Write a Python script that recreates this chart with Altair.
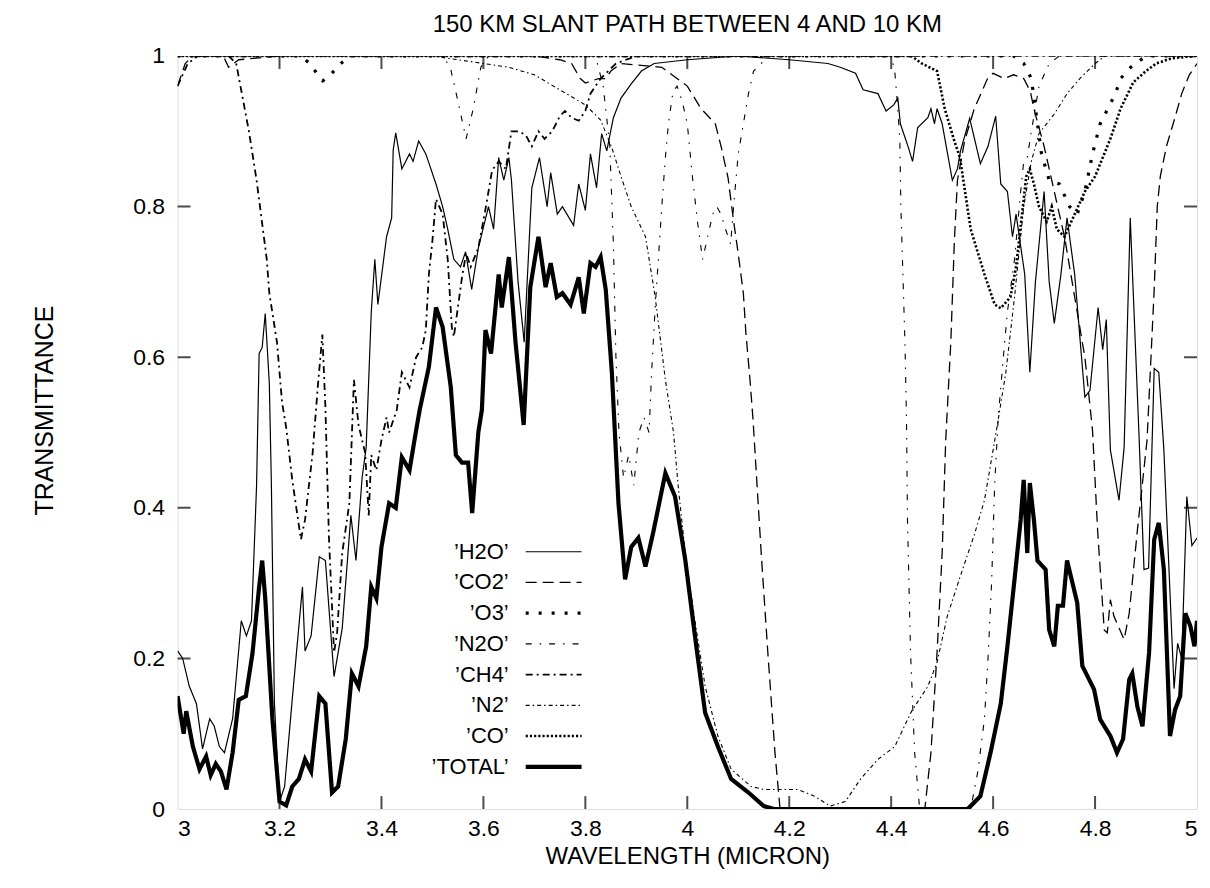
import altair as alt
import pandas as pd

TITLE = "150 KM SLANT PATH BETWEEN 4 AND 10 KM"
X_TITLE = "WAVELENGTH (MICRON)"
Y_TITLE = "TRANSMITTANCE"
X_TICKS = [3.0, 3.2, 3.4, 3.6, 3.8, 4.0, 4.2, 4.4, 4.6, 4.8, 5.0]
Y_TICKS = [0.0, 0.2, 0.4, 0.6, 0.8, 1.0]

# (wavelength, transmittance) pairs
H2O = [(3.0, 0.21), (3.01, 0.20), (3.023, 0.163), (3.037, 0.14), (3.049, 0.08), (3.063, 0.12),
       (3.072, 0.11), (3.082, 0.083), (3.092, 0.075), (3.108, 0.12), (3.125, 0.25), (3.135, 0.23),
       (3.145, 0.25), (3.155, 0.43), (3.16, 0.605), (3.166, 0.613), (3.172, 0.658), (3.18, 0.565),
       (3.184, 0.433), (3.19, 0.14), (3.2, 0.01), (3.21, 0.03), (3.225, 0.146), (3.245, 0.295),
       (3.25, 0.21), (3.262, 0.23), (3.278, 0.335), (3.29, 0.33), (3.307, 0.176), (3.323, 0.24),
       (3.34, 0.39), (3.35, 0.33), (3.362, 0.44), (3.37, 0.48), (3.38, 0.66), (3.387, 0.73),
       (3.393, 0.67), (3.41, 0.76), (3.42, 0.785), (3.423, 0.875), (3.428, 0.898), (3.44, 0.85),
       (3.455, 0.87), (3.462, 0.86), (3.473, 0.887), (3.487, 0.87), (3.507, 0.83), (3.52, 0.80),
       (3.53, 0.77), (3.542, 0.73), (3.555, 0.72), (3.565, 0.74), (3.577, 0.69), (3.59, 0.745),
       (3.61, 0.80), (3.62, 0.77), (3.63, 0.865), (3.64, 0.835), (3.65, 0.865), (3.655, 0.835),
       (3.668, 0.70), (3.68, 0.62), (3.695, 0.825), (3.71, 0.865), (3.725, 0.80), (3.732, 0.845),
       (3.745, 0.79), (3.755, 0.80), (3.777, 0.775), (3.787, 0.83), (3.80, 0.795), (3.81, 0.87),
       (3.822, 0.825), (3.832, 0.897), (3.842, 0.874), (3.855, 0.918), (3.87, 0.944), (3.89, 0.963),
       (3.91, 0.98), (3.935, 0.99), (4.0, 0.995), (4.1, 1.0), (4.2, 0.995), (4.276, 0.99),
       (4.30, 0.985), (4.33, 0.977), (4.345, 0.955), (4.374, 0.95), (4.39, 0.927), (4.405, 0.935),
       (4.413, 0.944), (4.418, 0.91), (4.433, 0.88), (4.442, 0.86), (4.452, 0.905), (4.472, 0.918),
       (4.478, 0.93), (4.485, 0.91), (4.49, 0.93), (4.50, 0.91), (4.52, 0.835), (4.53, 0.85),
       (4.536, 0.874), (4.554, 0.917), (4.575, 0.857), (4.59, 0.88), (4.605, 0.92), (4.615, 0.83),
       (4.628, 0.82), (4.638, 0.76), (4.645, 0.79), (4.662, 0.71), (4.672, 0.58), (4.683, 0.70),
       (4.70, 0.82), (4.71, 0.70), (4.72, 0.645), (4.733, 0.71), (4.745, 0.785), (4.76, 0.71),
       (4.771, 0.62), (4.78, 0.547), (4.79, 0.556), (4.806, 0.666), (4.815, 0.61), (4.822, 0.65),
       (4.83, 0.477), (4.847, 0.41), (4.857, 0.48), (4.869, 0.785), (4.886, 0.50), (4.896, 0.318),
       (4.905, 0.32), (4.916, 0.585), (4.925, 0.58), (4.935, 0.477), (4.955, 0.16), (4.962, 0.22),
       (4.97, 0.20), (4.98, 0.415), (4.99, 0.35), (5.0, 0.36)]

CO2 = [(3.0, 0.96), (3.015, 0.99), (3.03, 1.0), (3.09, 1.0), (3.1, 0.985), (3.12, 0.995), (3.2, 1.0),
       (3.7, 1.0), (3.75, 0.995), (3.773, 0.99), (3.79, 0.97), (3.80, 0.964), (3.826, 0.97),
       (3.84, 0.97), (3.85, 0.98), (3.87, 0.99), (3.95, 0.985), (4.0, 0.96), (4.027, 0.93),
       (4.055, 0.91), (4.067, 0.878), (4.08, 0.838), (4.09, 0.785), (4.10, 0.737), (4.11, 0.685),
       (4.115, 0.632), (4.123, 0.57), (4.129, 0.517), (4.145, 0.34), (4.158, 0.208), (4.172, 0.075),
       (4.182, 0.0), (4.466, 0.0), (4.478, 0.075), (4.49, 0.208), (4.50, 0.34), (4.507, 0.49),
       (4.517, 0.62), (4.524, 0.755), (4.53, 0.835), (4.544, 0.887), (4.563, 0.93), (4.589, 0.97),
       (4.60, 0.977), (4.622, 0.97), (4.64, 0.975), (4.66, 0.97), (4.673, 0.953), (4.68, 0.93),
       (4.70, 0.88), (4.72, 0.82), (4.74, 0.76), (4.76, 0.68), (4.78, 0.60), (4.795, 0.503),
       (4.805, 0.37), (4.818, 0.238), (4.824, 0.234), (4.83, 0.278), (4.837, 0.256), (4.857, 0.225),
       (4.867, 0.26), (4.883, 0.37), (4.902, 0.49), (4.916, 0.69), (4.922, 0.80), (4.928, 0.84),
       (4.94, 0.88), (4.955, 0.914), (4.97, 0.95), (4.985, 0.975), (5.0, 0.99)]

O3 = [(3.0, 1.0), (3.24, 1.0), (3.26, 0.99), (3.275, 0.975), (3.285, 0.967), (3.30, 0.975),
      (3.32, 0.99), (3.34, 1.0), (4.64, 1.0), (4.66, 0.99), (4.675, 0.97), (4.685, 0.92),
      (4.695, 0.87), (4.71, 0.835), (4.73, 0.83), (4.75, 0.80), (4.765, 0.79), (4.78, 0.82),
      (4.795, 0.87), (4.81, 0.91), (4.825, 0.93), (4.84, 0.95), (4.85, 0.97), (4.87, 0.985),
      (4.90, 1.0), (5.0, 1.0)]

N2O = [(3.0, 1.0), (3.52, 1.0), (3.535, 0.985), (3.55, 0.94), (3.566, 0.89), (3.58, 0.93),
       (3.595, 0.985), (3.61, 1.0), (3.82, 1.0), (3.835, 0.96), (3.848, 0.88), (3.855, 0.75),
       (3.86, 0.60), (3.866, 0.50), (3.875, 0.44), (3.885, 0.47), (3.895, 0.43), (3.905, 0.50),
       (3.915, 0.52), (3.925, 0.50), (3.93, 0.58), (3.937, 0.666), (3.95, 0.80), (3.957, 0.865),
       (3.963, 0.91), (3.972, 0.953), (3.98, 0.96), (3.99, 0.94), (4.0, 0.91), (4.01, 0.84),
       (4.02, 0.78), (4.03, 0.73), (4.04, 0.76), (4.05, 0.79), (4.058, 0.80), (4.066, 0.79),
       (4.075, 0.77), (4.085, 0.75), (4.092, 0.81), (4.10, 0.87), (4.11, 0.91), (4.12, 0.95),
       (4.13, 0.98), (4.16, 1.0), (4.40, 1.0), (4.407, 0.98), (4.413, 0.93), (4.417, 0.887),
       (4.419, 0.80), (4.423, 0.71), (4.427, 0.62), (4.43, 0.52), (4.432, 0.384), (4.438, 0.208),
       (4.446, 0.075), (4.456, 0.0), (4.556, 0.0), (4.57, 0.05), (4.583, 0.12), (4.59, 0.20),
       (4.597, 0.30), (4.603, 0.43), (4.61, 0.52), (4.62, 0.60), (4.628, 0.66), (4.642, 0.73),
       (4.654, 0.82), (4.66, 0.86), (4.667, 0.865), (4.675, 0.90), (4.69, 0.96), (4.71, 0.99),
       (4.73, 1.0), (5.0, 1.0)]

CH4 = [(3.0, 0.96), (3.02, 0.99), (3.04, 1.0), (3.10, 1.0), (3.115, 0.99), (3.14, 0.90),
       (3.155, 0.835), (3.175, 0.73), (3.18, 0.685), (3.195, 0.62), (3.205, 0.54), (3.213, 0.507),
       (3.225, 0.437), (3.242, 0.358), (3.25, 0.384), (3.265, 0.473), (3.275, 0.56), (3.284, 0.63),
       (3.29, 0.534), (3.297, 0.36), (3.307, 0.208), (3.313, 0.234), (3.323, 0.34), (3.337, 0.406),
       (3.346, 0.57), (3.355, 0.51), (3.368, 0.473), (3.375, 0.39), (3.38, 0.47), (3.39, 0.45),
       (3.40, 0.49), (3.41, 0.52), (3.415, 0.50), (3.43, 0.53), (3.44, 0.58), (3.455, 0.56),
       (3.468, 0.60), (3.48, 0.613), (3.487, 0.636), (3.493, 0.71), (3.50, 0.755), (3.507, 0.81),
       (3.52, 0.79), (3.53, 0.73), (3.538, 0.64), (3.542, 0.627), (3.558, 0.706), (3.566, 0.738),
       (3.575, 0.72), (3.59, 0.745), (3.605, 0.80), (3.617, 0.848), (3.63, 0.86), (3.644, 0.85),
       (3.655, 0.90), (3.67, 0.90), (3.683, 0.895), (3.695, 0.88), (3.708, 0.90), (3.72, 0.89),
       (3.735, 0.90), (3.75, 0.92), (3.76, 0.927), (3.773, 0.918), (3.787, 0.914), (3.80, 0.927),
       (3.81, 0.95), (3.83, 0.97), (3.86, 0.99), (3.90, 1.0), (5.0, 1.0)]

N2 = [(3.0, 1.0), (3.5, 1.0), (3.55, 0.995), (3.6, 0.99), (3.65, 0.985), (3.70, 0.975), (3.75, 0.955),
      (3.80, 0.935), (3.83, 0.915), (3.852, 0.878), (3.87, 0.84), (3.89, 0.80), (3.918, 0.76),
      (3.937, 0.68), (3.957, 0.57), (3.973, 0.50), (3.982, 0.43), (3.996, 0.34), (4.015, 0.25),
      (4.035, 0.163), (4.06, 0.097), (4.086, 0.053), (4.125, 0.03), (4.15, 0.026), (4.18, 0.026),
      (4.217, 0.026), (4.25, 0.017), (4.28, 0.004), (4.31, 0.01), (4.34, 0.04), (4.374, 0.066),
      (4.407, 0.083), (4.44, 0.13), (4.472, 0.163), (4.49, 0.195), (4.51, 0.256), (4.536, 0.31),
      (4.563, 0.364), (4.583, 0.41), (4.60, 0.477), (4.61, 0.517), (4.625, 0.58), (4.642, 0.68),
      (4.66, 0.80), (4.675, 0.86), (4.69, 0.897), (4.72, 0.923), (4.745, 0.95), (4.77, 0.97),
      (4.80, 0.99), (4.82, 1.0), (5.0, 1.0)]

CO = [(3.0, 1.0), (4.44, 1.0), (4.46, 0.99), (4.49, 0.98), (4.505, 0.93), (4.524, 0.887),
      (4.535, 0.865), (4.556, 0.77), (4.583, 0.71), (4.603, 0.67), (4.615, 0.665), (4.634, 0.68),
      (4.645, 0.72), (4.655, 0.78), (4.665, 0.84), (4.672, 0.85), (4.68, 0.83), (4.69, 0.80),
      (4.705, 0.78), (4.715, 0.80), (4.725, 0.77), (4.74, 0.76), (4.76, 0.79), (4.78, 0.82),
      (4.80, 0.84), (4.83, 0.89), (4.85, 0.93), (4.875, 0.965), (4.90, 0.98), (4.92, 0.99),
      (4.95, 0.997), (5.0, 1.0)]

TOTAL = [(3.0, 0.15), (3.012, 0.10), (3.017, 0.13), (3.03, 0.083), (3.043, 0.053), (3.056, 0.07),
         (3.065, 0.045), (3.075, 0.06), (3.085, 0.05), (3.096, 0.026), (3.108, 0.075), (3.12, 0.145),
         (3.134, 0.15), (3.147, 0.207), (3.16, 0.295), (3.166, 0.33), (3.172, 0.28), (3.186, 0.12),
         (3.2, 0.01), (3.213, 0.005), (3.225, 0.03), (3.238, 0.04), (3.25, 0.066), (3.262, 0.05),
         (3.278, 0.15), (3.29, 0.14), (3.303, 0.022), (3.315, 0.03), (3.33, 0.093), (3.342, 0.18),
         (3.355, 0.163), (3.37, 0.216), (3.38, 0.295), (3.39, 0.28), (3.40, 0.348), (3.415, 0.406),
         (3.428, 0.40), (3.44, 0.467), (3.455, 0.45), (3.468, 0.503), (3.475, 0.53), (3.493, 0.587),
         (3.507, 0.666), (3.52, 0.64), (3.536, 0.56), (3.546, 0.47), (3.558, 0.46), (3.57, 0.46),
         (3.578, 0.393), (3.59, 0.50), (3.597, 0.53), (3.604, 0.636), (3.615, 0.605), (3.63, 0.71),
         (3.636, 0.666), (3.65, 0.733), (3.663, 0.62), (3.679, 0.51), (3.692, 0.693), (3.708, 0.76),
         (3.722, 0.693), (3.732, 0.725), (3.744, 0.68), (3.755, 0.685), (3.771, 0.67), (3.787, 0.706),
         (3.797, 0.658), (3.81, 0.725), (3.82, 0.72), (3.83, 0.733), (3.84, 0.69), (3.852, 0.58),
         (3.865, 0.406), (3.878, 0.305), (3.89, 0.348), (3.904, 0.36), (3.918, 0.322), (3.933, 0.367),
         (3.957, 0.446), (3.976, 0.415), (3.996, 0.331), (4.015, 0.23), (4.035, 0.128), (4.06, 0.083),
         (4.086, 0.04), (4.12, 0.022), (4.15, 0.004), (4.17, 0.0), (4.55, 0.0), (4.575, 0.017),
         (4.595, 0.075), (4.615, 0.14), (4.628, 0.216), (4.642, 0.305), (4.654, 0.384), (4.66, 0.437),
         (4.667, 0.34), (4.672, 0.433), (4.68, 0.384), (4.687, 0.33), (4.703, 0.318), (4.71, 0.238),
         (4.72, 0.216), (4.727, 0.27), (4.737, 0.27), (4.745, 0.33), (4.765, 0.274), (4.775, 0.19),
         (4.798, 0.159), (4.81, 0.119), (4.83, 0.097), (4.843, 0.075), (4.855, 0.093), (4.867, 0.172),
         (4.873, 0.18), (4.883, 0.136), (4.893, 0.11), (4.906, 0.208), (4.916, 0.358), (4.925, 0.38),
         (4.935, 0.318), (4.947, 0.097), (4.957, 0.132), (4.967, 0.15), (4.977, 0.26), (4.987, 0.243),
         (4.995, 0.216), (5.0, 0.25)]

SERIES = [("H2O", H2O), ("CO2", CO2), ("O3", O3), ("N2O", N2O),
          ("CH4", CH4), ("N2", N2), ("CO", CO), ("TOTAL", TOTAL)]

STYLE = {
    "H2O": dict(strokeWidth=1.2),
    "CO2": dict(strokeWidth=1.3, strokeDash=[11, 6]),
    "O3": dict(strokeWidth=3.2, strokeDash=[3, 10]),
    "N2O": dict(strokeWidth=1.1, strokeDash=[6, 8, 1.5, 8]),
    "CH4": dict(strokeWidth=1.8, strokeDash=[7, 4, 2, 4]),
    "N2": dict(strokeWidth=1.1, strokeDash=[4, 3, 1.5, 3]),
    "CO": dict(strokeWidth=2.6, strokeDash=[2.2, 2]),
    "TOTAL": dict(strokeWidth=4.2),
}

FONT = "Liberation Sans"
W, H = 1022, 755

xs = alt.Scale(domain=[3, 5], nice=False, zero=False)
ys = alt.Scale(domain=[0, 1], nice=False, zero=False)
XENC = alt.X("w:Q", scale=xs, axis=alt.Axis(
    values=X_TICKS, format="~g", title=X_TITLE, grid=False, domain=False, ticks=False,
    labelFont=FONT, labelFontSize=23, labelColor="black", labelPadding=8,
    titleFont=FONT, titleFontSize=24, titleFontWeight="normal", titleColor="black",
    titleX=W / 2, titleY=48, titleBaseline="middle", titleAlign="center"))
YENC = alt.Y("t:Q", scale=ys, axis=alt.Axis(
    values=Y_TICKS, format="~g", title=Y_TITLE, grid=False, domain=False, ticks=False,
    labelFont=FONT, labelFontSize=23, labelColor="black", labelPadding=13,
    titleFont=FONT, titleFontSize=25, titleFontWeight="normal", titleColor="black",
    titleAngle=-90, titleX=-133, titleY=355, titleAlign="center", titleBaseline="middle"))

layers = []
for name, pts in SERIES:
    df = pd.DataFrame(pts, columns=["w", "t"])
    layers.append(
        alt.Chart(df).mark_line(color="black", clip=True, strokeCap="butt", **STYLE[name])
        .encode(x=XENC, y=YENC)
    )

# inward mirror ticks on all four sides
inner_x = X_TICKS[1:-1]
inner_y = Y_TICKS[1:-1]
tick_v = pd.DataFrame({"w": inner_x * 2, "t": [0.0] * len(inner_x) + [1.0] * len(inner_x)})
tick_h = pd.DataFrame({"w": [3.0] * len(inner_y) + [5.0] * len(inner_y), "t": inner_y * 2})
layers.append(alt.Chart(tick_v).mark_tick(orient="vertical", size=26, thickness=2,
                                          color="black", clip=True).encode(x=XENC, y=YENC))
layers.append(alt.Chart(tick_h).mark_tick(orient="horizontal", size=26, thickness=2,
                                          color="black", clip=True).encode(x=XENC, y=YENC))

# key inside the plot, gnuplot style: label then line sample
one = pd.DataFrame({"a": [0]})
for i, (name, _) in enumerate(SERIES):
    ry = 497 + i * 30.8
    layers.append(alt.Chart(one).mark_text(
        text="\u2019" + name + "\u2019", font=FONT, fontSize=22, align="right",
        baseline="middle", color="black").encode(x=alt.value(332), y=alt.value(ry)))
    layers.append(alt.Chart(one).mark_rule(color="black", strokeCap="butt", **STYLE[name])
                  .encode(x=alt.value(349), x2=alt.value(405), y=alt.value(ry)))

chart = alt.layer(*layers).properties(
    width=W, height=H,
    title=alt.TitleParams(TITLE, font=FONT, fontSize=24, fontWeight="normal",
                          color="black", anchor="middle", offset=8),
    autosize=alt.AutoSizeParams(type="none"),
    padding={"left": 170, "top": 47, "right": 5, "bottom": 70},
).configure_view(stroke="black", strokeWidth=2).configure(background="white")

chart.save("out.html", embed_options={"renderer": "svg", "actions": False})
